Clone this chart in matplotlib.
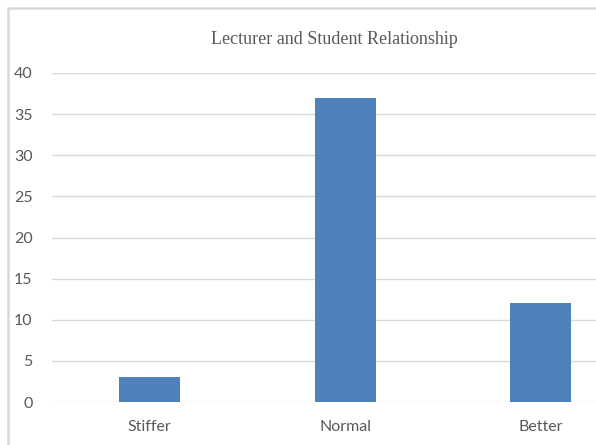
import matplotlib
matplotlib.use("Agg")
import matplotlib.pyplot as plt
from matplotlib.patches import Rectangle

categories = ["Stiffer", "Normal", "Better"]
counts = [3, 37, 12]
y_ticks = [0, 5, 10, 15, 20, 25, 30, 35, 40]

BAR_COLOR = "#4F81BD"
GRID_COLOR = "#d9d9d9"
TEXT_COLOR = "#595959"


def plot_relationship(output_path=None):
    fig = plt.figure(figsize=(5.96, 4.45), dpi=100)
    fig.patch.set_facecolor("white")

    # chart frame, runs off the right and bottom edges
    fig.patches.append(Rectangle((8 / 596, -0.2), 1.5, 1.2 - 8 / 445,
                                 transform=fig.transFigure, fill=False,
                                 edgecolor=GRID_COLOR, linewidth=1.8))

    ax = fig.add_axes([52 / 596, 43 / 445, 586.5 / 596, 329 / 445])
    ax.bar(range(len(categories)), counts, width=0.31, color=BAR_COLOR, zorder=3)

    ax.set_xlim(-0.5, 2.5)
    ax.set_ylim(0, 40)
    ax.set_yticks(y_ticks)
    ax.set_xticks(range(len(categories)))
    ax.set_xticklabels(categories)
    ax.grid(axis="y", color=GRID_COLOR, linewidth=1.0, zorder=0)
    for s in ax.spines.values():
        s.set_visible(False)
    ax.tick_params(axis="both", length=0, colors=TEXT_COLOR, labelsize=11.5)
    ax.tick_params(axis="y", pad=14)
    ax.tick_params(axis="x", pad=13)
    for lbl in ax.get_xticklabels() + ax.get_yticklabels():
        lbl.set_family(["Lato", "DejaVu Sans"])

    fig.text(334 / 596, 1 - 40 / 445, "Lecturer and Student Relationship",
             ha="center", va="center", color=TEXT_COLOR, fontsize=13,
             family=["Liberation Serif", "DejaVu Serif"])

    if output_path:
        fig.savefig(output_path, dpi=100)


def main():
    plot_relationship("out.png")


if __name__ == "__main__":
    main()
